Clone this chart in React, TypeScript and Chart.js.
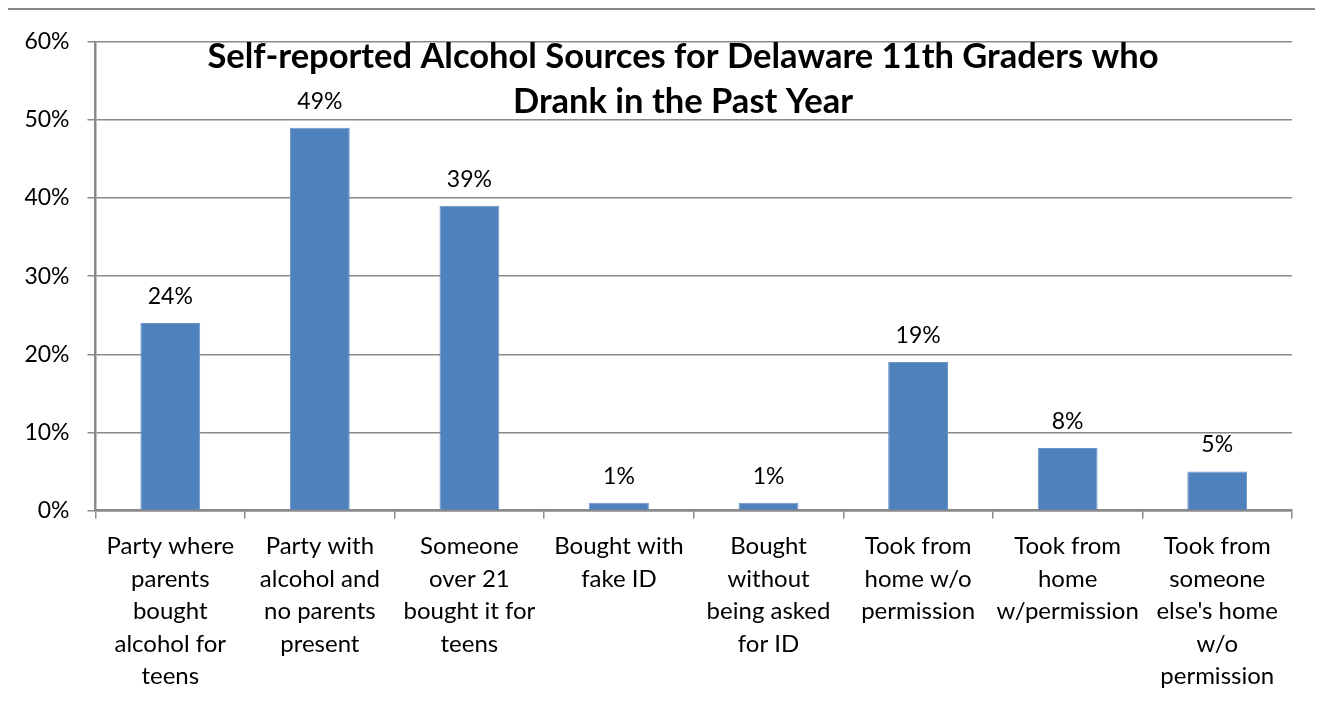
import React, { useEffect, useRef } from "react";
import { Chart, registerables } from "chart.js";

Chart.register(...registerables);

const categories: string[][] = [
  ["Party where", "parents", "bought", "alcohol for", "teens"],
  ["Party with", "alcohol and", "no parents", "present"],
  ["Someone", "over 21", "bought it for", "teens"],
  ["Bought with", "fake ID"],
  ["Bought", "without", "being asked", "for ID"],
  ["Took from", "home w/o", "permission"],
  ["Took from", "home", "w/permission"],
  ["Took from", "someone", "else's home", "w/o", "permission"],
];

const values: number[] = [24, 49, 39, 1, 1, 19, 8, 5];

const titleLines: string[] = [
  "Self-reported Alcohol Sources for Delaware 11th Graders who",
  "Drank in the Past Year",
];

const FONT = "Lato, 'Open Sans', sans-serif";
const GRID = "#8a8a8a";

const titlePlugin = {
  id: "overlayTitle",
  afterDraw(chart: any) {
    const ctx = chart.ctx;
    ctx.save();
    ctx.font = `bold 34.5px ${FONT}`;
    ctx.fillStyle = "#000";
    ctx.textAlign = "center";
    ctx.textBaseline = "alphabetic";
    ctx.fillText(titleLines[0], 675, 58);
    ctx.fillText(titleLines[1], 675, 103);
    ctx.restore();
  },
};

const labelPlugin = {
  id: "valueLabels",
  afterDatasetsDraw(chart: any) {
    const ctx = chart.ctx;
    const meta = chart.getDatasetMeta(0);
    ctx.save();
    ctx.font = `23px ${FONT}`;
    ctx.fillStyle = "#000";
    ctx.textAlign = "center";
    ctx.textBaseline = "alphabetic";
    meta.data.forEach((bar: any, i: number) => {
      ctx.fillText(values[i] + "%", bar.x, bar.y - 19);
    });
    ctx.restore();
  },
};

export default function App() {
  const ref = useRef<HTMLCanvasElement>(null);
  useEffect(() => {
    if (!ref.current) return;
    const chart = new Chart(ref.current, {
      type: "bar",
      data: {
        labels: categories,
        datasets: [
          {
            data: values,
            backgroundColor: "#4F81BD",
            borderColor: "#6B94C8",
            borderWidth: 1,
            barPercentage: 0.4,
            categoryPercentage: 1,
          },
        ],
      },
      options: {
        animation: false,
        responsive: false,
        devicePixelRatio: 1,
        layout: { padding: { left: 0, right: 28, top: 28, bottom: 0 } },
        plugins: {
          legend: { display: false },
          title: { display: false },
          tooltip: { enabled: false },
        },
        scales: {
          x: {
            offset: true,
            grid: {
              offset: true,
              drawOnChartArea: false,
              drawTicks: true,
              tickLength: 8,
              color: GRID,
              lineWidth: 1.5,
            },
            border: { color: GRID, width: 2.5 },
            ticks: {
              color: "#000",
              padding: 12,
              maxRotation: 0,
              autoSkip: false,
              font: { family: FONT, size: 24, lineHeight: 1.35 },
            },
            afterFit(scale: any) {
              scale.height = 215.5;
            },
          },
          y: {
            min: 0,
            max: 60,
            grid: {
              color: GRID,
              lineWidth: 1.5,
              tickLength: 8,
            },
            border: { color: GRID, width: 2.5 },
            ticks: {
              stepSize: 10,
              color: "#000",
              padding: 18,
              font: { family: FONT, size: 23 },
              callback: (v: any) => v + "%",
            },
            afterFit(scale: any) {
              scale.width = 87.5;
            },
          },
        },
      },
      plugins: [labelPlugin, titlePlugin],
    });
    return () => chart.destroy();
  }, []);

  return (
    <div
      style={{
        width: 1316,
        height: 720,
        marginLeft: -2,
        border: "2px solid #898989",
        boxSizing: "border-box",
        background: "#fff",
      }}
    >
      <canvas ref={ref} width={1312} height={716} style={{ display: "block" }} />
    </div>
  );
}
